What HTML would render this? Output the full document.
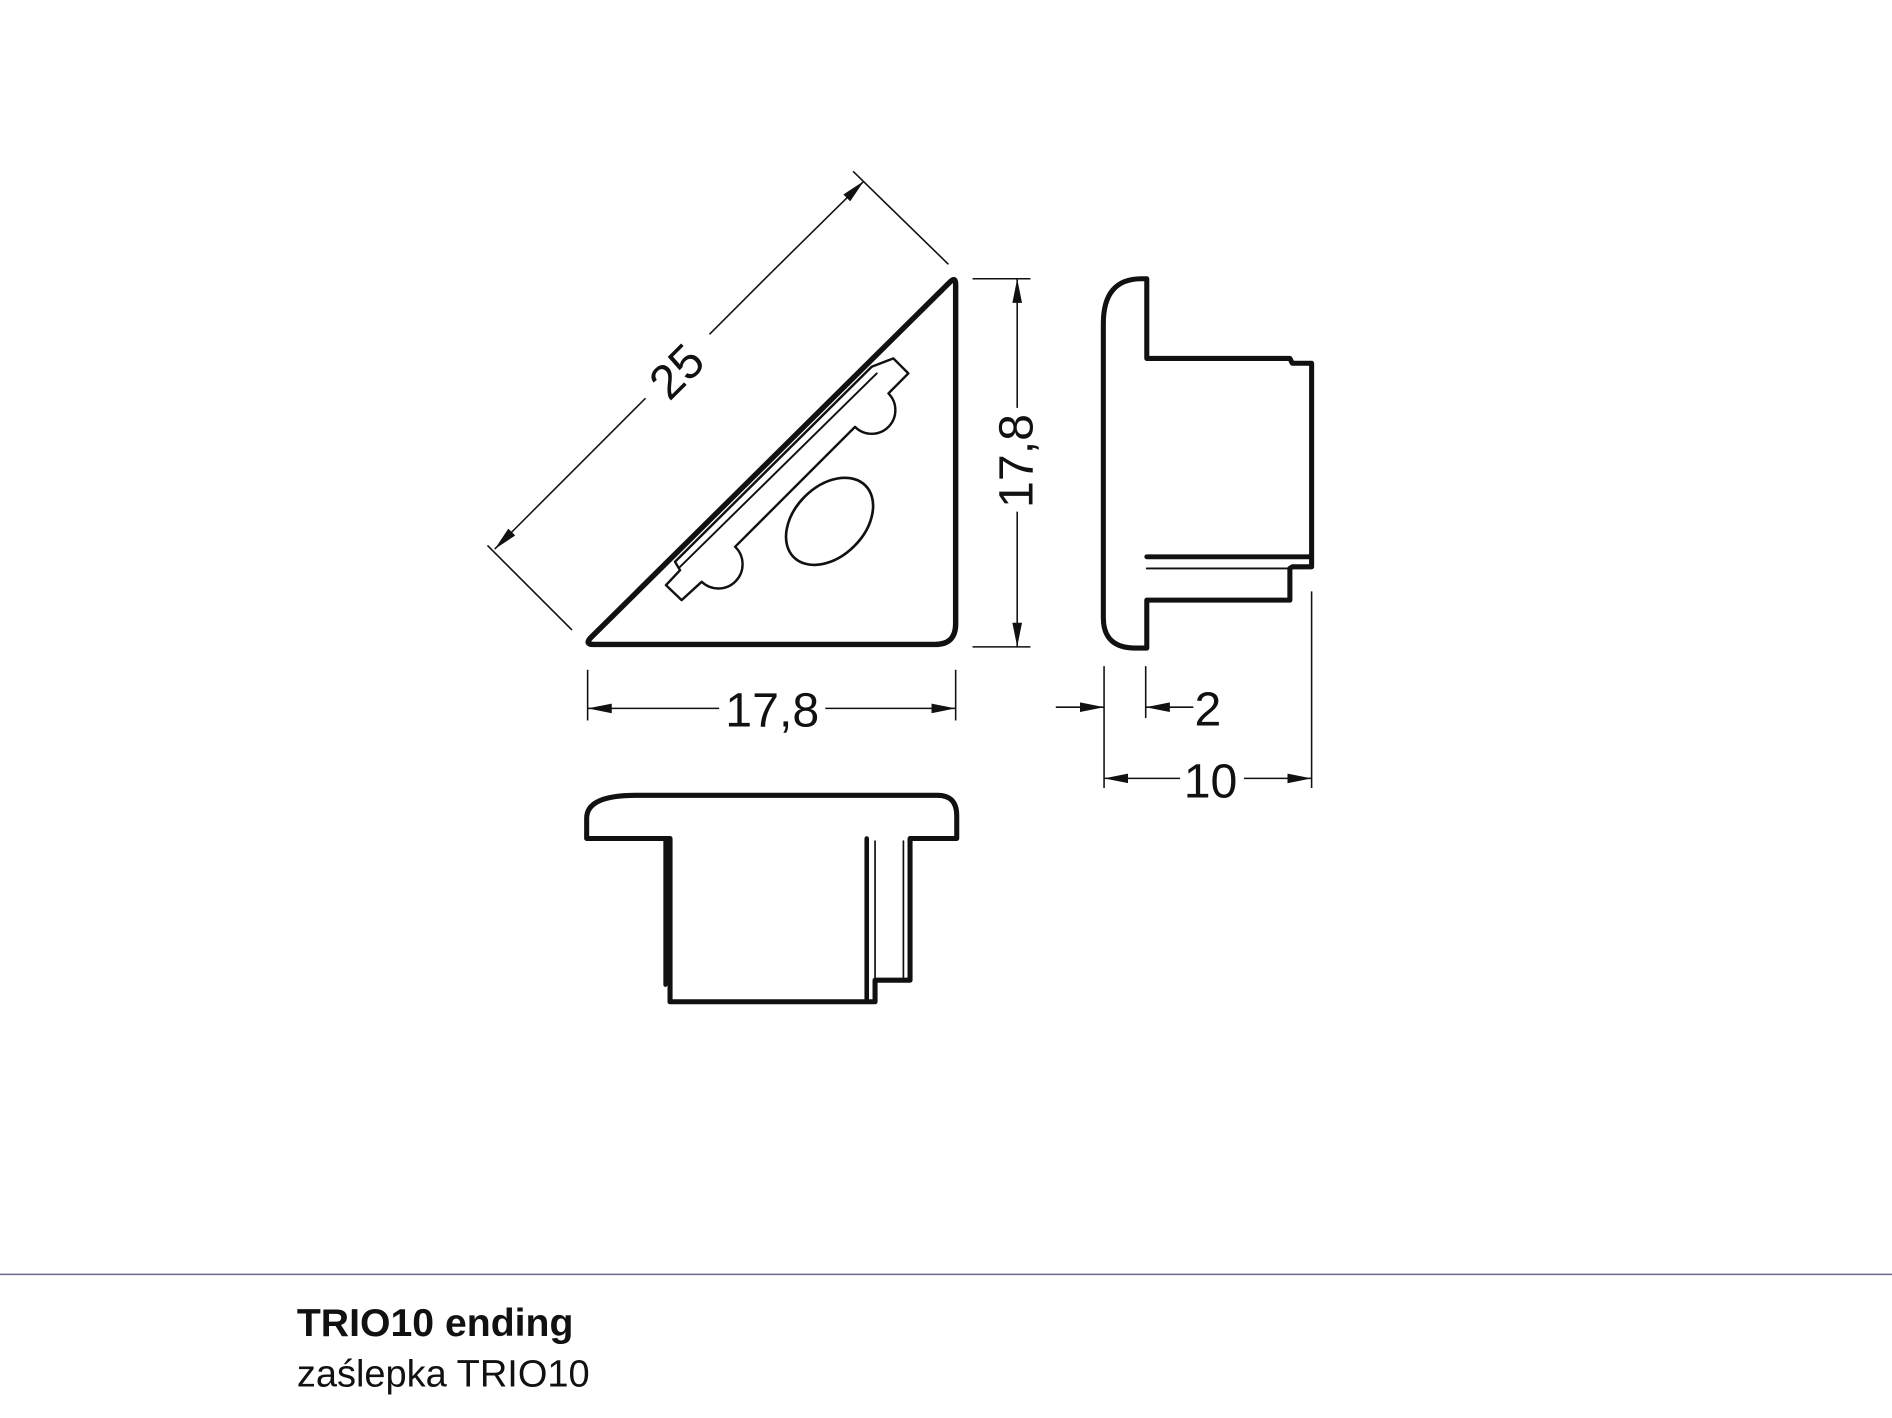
<!DOCTYPE html>
<html><head><meta charset="utf-8"><style>
html,body{margin:0;padding:0;background:#fff;width:1892px;height:1418px;overflow:hidden}
svg{display:block}
text{font-family:"Liberation Sans",sans-serif;fill:#111}
</style></head><body>
<svg width="1892" height="1418" viewBox="0 0 1568 1175" preserveAspectRatio="none" xmlns="http://www.w3.org/2000/svg">
<defs>
<marker id="a" viewBox="0 0 20 10" refX="20" refY="5" markerWidth="20" markerHeight="10" markerUnits="userSpaceOnUse" orient="auto"><path d="M0,1 L20,5 L0,9 Z" fill="#111"/></marker>
</defs>
<g fill="none" stroke="#111" stroke-linejoin="round" stroke-linecap="round">
<path d="M792,236 Q792,228 786,235 L490,528 Q484,534 492,534 L775,534 Q792,534 792,517 Z" stroke-width="4.5"/>
<path d="M559.4,465.5 L722.4,303.9 L740.4,297 L752.8,309.4 L736.3,326 A16.6,16.6 0 0 1 708.6,353.7 L609.2,453.1 A16.6,16.6 0 0 1 581.5,482.1 L564.9,497.3 L551.9,484.9 L563.6,472.5 Z" stroke-width="2"/>
<line x1="563.6" y1="469.7" x2="726.6" y2="309.4" stroke-width="1.6"/>
<ellipse cx="687.5" cy="432" rx="42" ry="29" transform="rotate(-45 687.5 432)" stroke-width="2.2"/>
<path d="M914.4,268 Q914.4,231 946,231 L950.4,231 L950.4,297 L1069,297 L1071,301 L1087,301 L1087,469.7 L1071,469.7 L1069,471 L1069,497.3 L950.4,497.3 L950.4,537 L941,537 Q914.4,537 914.4,512 Z" stroke-width="4.2"/>
<path d="M950.4,461.4 L1087,461.4" stroke-width="4"/>
<path d="M950.4,471 L1069,471" stroke-width="1.6"/>
<path d="M486.2,694.8 L486.2,678 Q486.2,659 527,659 L777,659 Q792.9,659 792.9,676 L792.9,694.8 L754.2,694.8 L754.2,812.2 L725.2,812.2 L725.2,830.1 L555.3,830.1 L555.3,694.8 Z" stroke-width="4.2"/>
<path d="M551.5,694.8 L551.5,816" stroke-width="3.5"/>
<path d="M718.3,694.8 L718.3,830" stroke-width="3.8"/>
<path d="M725.2,697 L725.2,812" stroke-width="1.4"/>
<path d="M748.7,697 L748.7,812" stroke-width="1.4"/>
</g>
<g stroke="#111" stroke-width="1.3" fill="none">
<line x1="474" y1="522" x2="404" y2="452"/>
<line x1="786" y1="219" x2="707" y2="142"/>
<line x1="490" y1="375" x2="410" y2="455" marker-end="url(#a)"/>
<line x1="640" y1="225" x2="716" y2="150" marker-end="url(#a)"/>
<line x1="490" y1="375" x2="535" y2="330"/>
<line x1="640" y1="225" x2="588" y2="277"/>
<line x1="806" y1="231" x2="854" y2="231"/>
<line x1="806" y1="536" x2="854" y2="536"/>
<line x1="843" y1="338" x2="843" y2="231" marker-end="url(#a)"/>
<line x1="843" y1="424" x2="843" y2="536" marker-end="url(#a)"/>
<line x1="487" y1="555" x2="487" y2="597"/>
<line x1="792" y1="555" x2="792" y2="597"/>
<line x1="596" y1="587" x2="487" y2="587" marker-end="url(#a)"/>
<line x1="684" y1="587" x2="792" y2="587" marker-end="url(#a)"/>
<line x1="915" y1="552" x2="915" y2="653"/>
<line x1="949.5" y1="552" x2="949.5" y2="595"/>
<line x1="875" y1="586" x2="915" y2="586" marker-end="url(#a)"/>
<line x1="989" y1="586" x2="949.5" y2="586" marker-end="url(#a)"/>
<line x1="1087" y1="490" x2="1087" y2="653"/>
<line x1="978" y1="645" x2="915" y2="645" marker-end="url(#a)"/>
<line x1="1031" y1="645" x2="1087" y2="645" marker-end="url(#a)"/>
</g>
<text x="563" y="310" font-size="40" text-anchor="middle" transform="rotate(-45 563 310)" dominant-baseline="middle">25</text>
<text x="845" y="382" font-size="40" text-anchor="middle" transform="rotate(-90 845 382)" dominant-baseline="middle">17,8</text>
<text x="640" y="602" font-size="40" text-anchor="middle">17,8</text>
<text x="990" y="601" font-size="40">2</text>
<text x="981" y="661" font-size="40">10</text>
<line x1="0" y1="1056" x2="1568" y2="1056" stroke="#6a6a8a" stroke-width="1.2"/>
<text x="246" y="1107" font-size="32.5" font-weight="bold">TRIO10 ending</text>
<text x="246" y="1149" font-size="31.5">zaślepka TRIO10</text>
</svg>
</body></html>
